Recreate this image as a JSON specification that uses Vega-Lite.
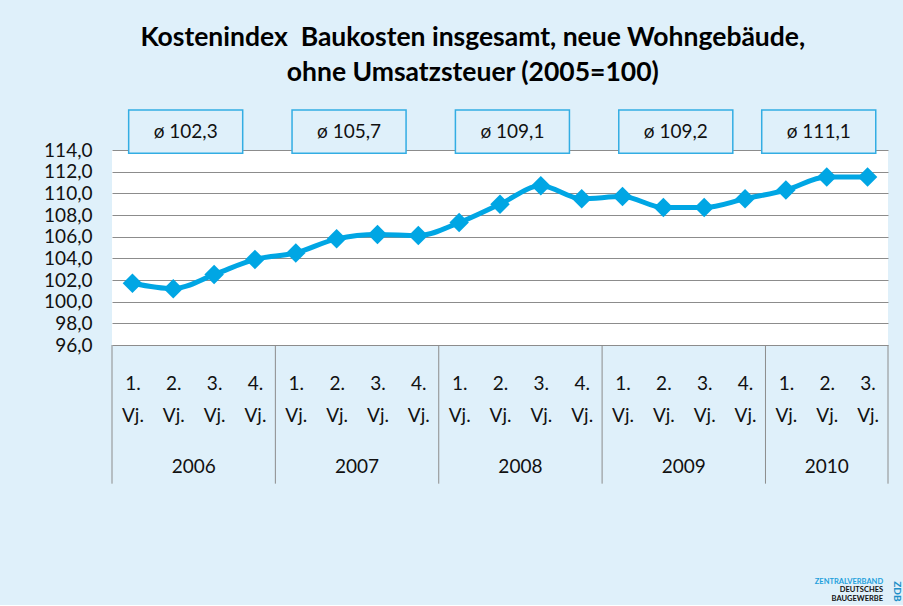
{
  "$schema": "https://vega.github.io/schema/vega-lite/v6.json",
  "width": 776,
  "height": 195,
  "padding": {"left": 43, "top": 25, "right": 1, "bottom": 2},
  "background": "#dff0fa",
  "config": {
    "view": {"stroke": null, "fill": "white"},
    "font": "Lato"
  },
  "title": {
    "text": ["Kostenindex\u00a0 Baukosten insgesamt, neue Wohngebäude,", "ohne Umsatzsteuer (2005=100)"],
    "font": "Lato",
    "fontSize": 26.5,
    "fontWeight": "bold",
    "lineHeight": 35,
    "color": "#000000",
    "anchor": "middle",
    "frame": "bounds",
    "offset": 20
  },
  "datasets": {
    "index": [
      {"i": 1, "year": 2006, "quarter": 1, "value": 101.7},
      {"i": 2, "year": 2006, "quarter": 2, "value": 101.2},
      {"i": 3, "year": 2006, "quarter": 3, "value": 102.5},
      {"i": 4, "year": 2006, "quarter": 4, "value": 103.9},
      {"i": 5, "year": 2007, "quarter": 1, "value": 104.5},
      {"i": 6, "year": 2007, "quarter": 2, "value": 105.8},
      {"i": 7, "year": 2007, "quarter": 3, "value": 106.2},
      {"i": 8, "year": 2007, "quarter": 4, "value": 106.1},
      {"i": 9, "year": 2008, "quarter": 1, "value": 107.3},
      {"i": 10, "year": 2008, "quarter": 2, "value": 109.0},
      {"i": 11, "year": 2008, "quarter": 3, "value": 110.7},
      {"i": 12, "year": 2008, "quarter": 4, "value": 109.5},
      {"i": 13, "year": 2009, "quarter": 1, "value": 109.7},
      {"i": 14, "year": 2009, "quarter": 2, "value": 108.7},
      {"i": 15, "year": 2009, "quarter": 3, "value": 108.7},
      {"i": 16, "year": 2009, "quarter": 4, "value": 109.5},
      {"i": 17, "year": 2010, "quarter": 1, "value": 110.3},
      {"i": 18, "year": 2010, "quarter": 2, "value": 111.5},
      {"i": 19, "year": 2010, "quarter": 3, "value": 111.5}
    ],
    "averages": [
      {"year": 2006, "avg": 102.3},
      {"year": 2007, "avg": 105.7},
      {"year": 2008, "avg": 109.1},
      {"year": 2009, "avg": 109.2},
      {"year": 2010, "avg": 111.1}
    ]
  },
  "data": {"name": "index"},
  "layer": [
    {
      "mark": {"type": "line", "interpolate": "monotone", "color": "#00a6e4", "strokeWidth": 5},
      "encoding": {
        "x": {
          "field": "i",
          "type": "quantitative",
          "scale": {"domain": [0.5, 19.5], "nice": false, "zero": false},
          "axis": {
            "values": [1, 2, 3, 4, 5, 6, 7, 8, 9, 10, 11, 12, 13, 14, 15, 16, 17, 18, 19],
            "tickCount": 40,
            "labelExpr": "[((datum.value - 1) % 4 + 1) + '.', 'Vj.']",
            "title": null,
            "domain": false,
            "ticks": false,
            "tickSize": 0,
            "grid": false,
            "labelPadding": 44,
            "labelBaseline": "alphabetic",
            "labelLineHeight": 32,
            "labelFont": "Lato",
            "labelFontSize": 19,
            "labelColor": "#111111",
            "labelOverlap": false,
            "labelFlush": false,
            "labelBound": false
          }
        },
        "y": {
          "field": "value",
          "type": "quantitative",
          "scale": {"domain": [96, 114], "nice": false, "zero": false},
          "axis": {
            "values": [96, 98, 100, 102, 104, 106, 108, 110, 112, 114],
            "tickCount": 20,
            "labelExpr": "replace(format(datum.value, '.1f'), '.', ',')",
            "title": null,
            "domain": false,
            "ticks": false,
            "tickSize": 0,
            "labelPadding": 20,
            "labelFont": "Lato",
            "labelFontSize": 19,
            "labelColor": "#111111",
            "labelOverlap": false,
            "labelFlush": false,
            "labelBound": false,
            "grid": true,
            "gridColor": "#8c8c8c",
            "gridWidth": 1,
            "gridOpacity": 1
          }
        }
      }
    },
    {
      "mark": {"type": "point", "shape": "diamond", "filled": true, "size": 380, "color": "#00a6e4", "opacity": 1},
      "encoding": {
        "x": {"field": "i", "type": "quantitative"},
        "y": {"field": "value", "type": "quantitative"}
      }
    },
    {
      "transform": [
        {"aggregate": [{"op": "min", "field": "i", "as": "first"}], "groupby": ["year"]},
        {"calculate": "datum.first - 0.5", "as": "left"}
      ],
      "mark": {"type": "rule", "color": "#8c8c8c", "strokeWidth": 1},
      "encoding": {
        "x": {"field": "left", "type": "quantitative"},
        "y": {"datum": 96, "type": "quantitative"},
        "y2": {"datum": 83.2}
      }
    },
    {
      "transform": [
        {"aggregate": [{"op": "mean", "field": "i", "as": "center"}], "groupby": ["year"]}
      ],
      "mark": {"type": "text", "font": "Lato", "fontSize": 19, "color": "#111111", "baseline": "alphabetic", "align": "center"},
      "encoding": {
        "x": {"field": "center", "type": "quantitative"},
        "y": {"datum": 84.15, "type": "quantitative"},
        "text": {"field": "year", "type": "nominal"}
      }
    },
    {
      "transform": [
        {"aggregate": [{"op": "mean", "field": "i", "as": "center"}], "groupby": ["year"]},
        {"lookup": "year", "from": {"data": {"name": "averages"}, "key": "year", "fields": ["avg"]}},
        {"calculate": "'ø ' + replace(format(datum.avg, '.1f'), '.', ',')", "as": "label"}
      ],
      "mark": {"type": "point", "shape": "M-2.63,-1H2.63V1H-2.63Z", "size": 1880, "filled": true, "color": "#dff0fa", "stroke": "#33ade3", "strokeWidth": 1.5, "opacity": 1, "xOffset": -8},
      "encoding": {
        "x": {"field": "center", "type": "quantitative"},
        "y": {"datum": 115.7, "type": "quantitative"}
      }
    },
    {
      "transform": [
        {"aggregate": [{"op": "mean", "field": "i", "as": "center"}], "groupby": ["year"]},
        {"lookup": "year", "from": {"data": {"name": "averages"}, "key": "year", "fields": ["avg"]}},
        {"calculate": "'ø ' + replace(format(datum.avg, '.1f'), '.', ',')", "as": "label"}
      ],
      "mark": {"type": "text", "font": "Lato", "fontSize": 19, "color": "#111111", "baseline": "middle", "align": "center", "xOffset": -8},
      "encoding": {
        "x": {"field": "center", "type": "quantitative"},
        "y": {"datum": 115.7, "type": "quantitative"},
        "text": {"field": "label", "type": "nominal"}
      }
    },
    {
      "data": {"values": [{}]},
      "mark": {"type": "rule", "color": "#8c8c8c", "strokeWidth": 1},
      "encoding": {
        "x": {"datum": 19.5, "type": "quantitative"},
        "y": {"datum": 96, "type": "quantitative"},
        "y2": {"datum": 83.2}
      }
    },
    {
      "data": {"values": [{}]},
      "mark": {"type": "text", "text": "ZENTRALVERBAND", "font": "Lato", "fontSize": 7.5, "fontWeight": "bold", "color": "#1ea0dc", "align": "right", "baseline": "alphabetic"},
      "encoding": {
        "x": {"datum": 19.38, "type": "quantitative"},
        "y": {"datum": 73.955, "type": "quantitative"}
      }
    },
    {
      "data": {"values": [{}]},
      "mark": {"type": "text", "text": ["DEUTSCHES", "BAUGEWERBE"], "lineHeight": 8.5, "font": "Lato", "fontSize": 7.5, "fontWeight": "bold", "color": "#111111", "align": "right", "baseline": "alphabetic"},
      "encoding": {
        "x": {"datum": 19.38, "type": "quantitative"},
        "y": {"datum": 73.17, "type": "quantitative"}
      }
    },
    {
      "data": {"values": [{}]},
      "mark": {"type": "text", "text": "ZDB", "font": "Lato", "fontSize": 10, "fontWeight": "bold", "color": "#1d8fc7", "align": "center", "baseline": "middle", "angle": 90},
      "encoding": {
        "x": {"datum": 19.72, "type": "quantitative"},
        "y": {"datum": 73.26, "type": "quantitative"}
      }
    }
  ]
}
